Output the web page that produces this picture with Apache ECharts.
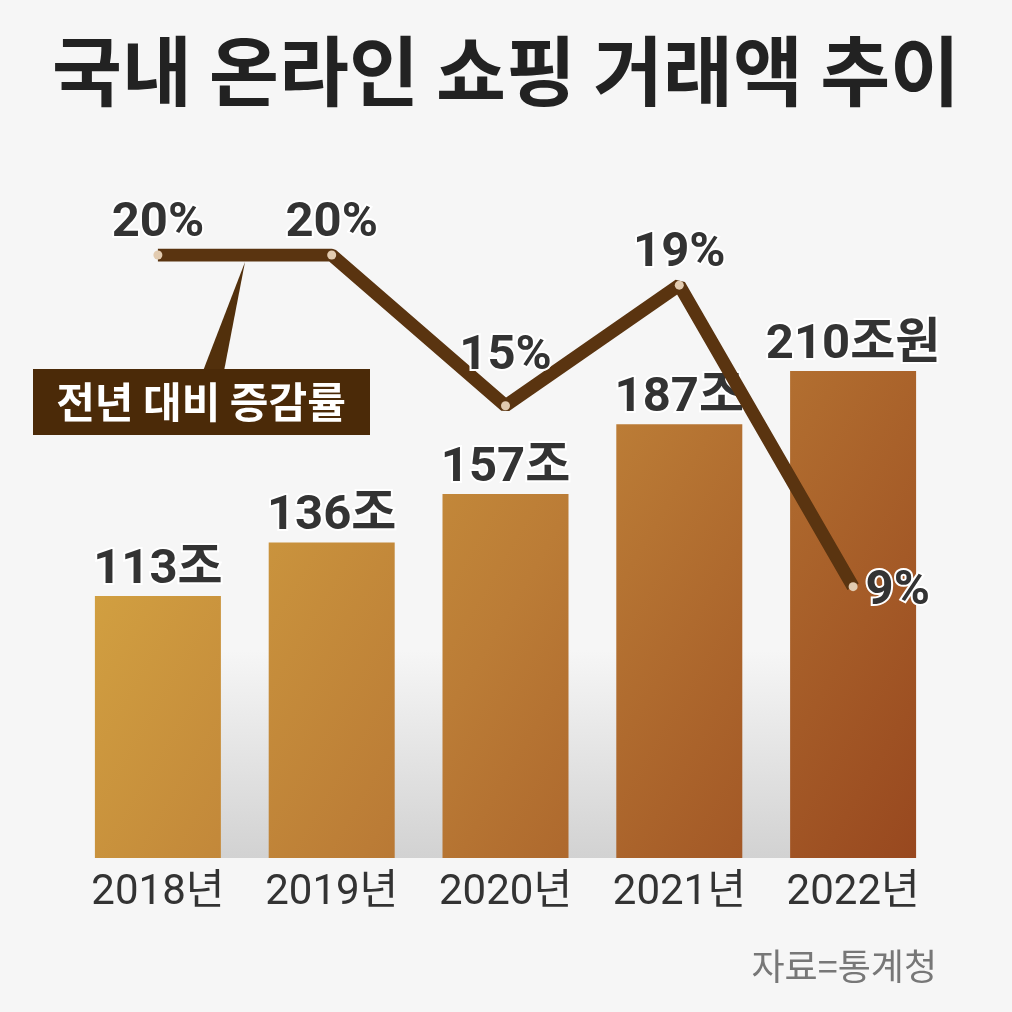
<!DOCTYPE html>
<html>
<head>
<meta charset="utf-8">
<script src="https://cdn.jsdelivr.net/npm/echarts@6/dist/echarts.min.js"></script>
<style>
html,body{margin:0;padding:0;background:#f6f6f6;}
#chart{width:1012px;height:1012px;}
</style>
</head>
<body>
<div id="chart"></div>
<script>
const categories = ['2018년', '2019년', '2020년', '2021년', '2022년'];
const amounts = [113, 136, 157, 187, 210];
const amountLabels = ['113조', '136조', '157조', '187조', '210조원'];
const growthRates = [20, 20, 15, 19, 9];

const chart = echarts.init(document.getElementById('chart'));
const numFont = 'Roboto, "Noto Sans CJK KR", sans-serif';
const barGrad = new echarts.graphic.LinearGradient(96, 371, 916, 858, [
  {offset: 0, color: '#d8aa44'},
  {offset: 0.5, color: '#bb7c36'},
  {offset: 1, color: '#98481f'}
], true);

const pctLabelCfg = [
  {position: 'top', distance: 2},
  {position: 'top', distance: 2},
  {position: 'top', distance: 20},
  {position: 'top', distance: 2},
  {position: 'right', distance: 8, offset: [0, 5]}
];

chart.setOption({
  backgroundColor: '#f6f6f6',
  animation: false,
  title: {
    text: '국내 온라인 쇼핑 거래액 추이',
    left: 'center',
    top: 28,
    textStyle: {fontFamily: '"Noto Sans CJK KR", sans-serif', fontWeight: 'bold', fontSize: 76, color: '#222222'}
  },
  graphic: [
    {type: 'rect', z: -10, shape: {x: 221, y: 650, width: 569, height: 208},
     style: {fill: new echarts.graphic.LinearGradient(0, 0, 0, 1, [{offset: 0, color: 'rgba(210,210,210,0)'}, {offset: 1, color: '#d2d2d2'}])}},
    {type: 'polygon', z: 50, shape: {points: [[203, 371], [224, 371], [245, 262]]}, style: {fill: '#52300c'}},
    {type: 'rect', z: 50, shape: {x: 33, y: 369, width: 337, height: 66}, style: {fill: '#4b2a08'}},
    {type: 'text', z: 51, x: 201, y: 402, style: {text: '전년 대비 증감률', fill: '#ffffff', fontSize: 42, fontWeight: 'bold', fontFamily: '"Noto Sans CJK KR", sans-serif', align: 'center', verticalAlign: 'middle'}},
    {type: 'text', right: 75, top: 948, style: {text: '자료=통계청', fill: '#777777', fontSize: 36, fontFamily: '"Noto Sans CJK KR", sans-serif'}}
  ],
  grid: {left: 71, right: 72, top: 255, bottom: 154},
  xAxis: {
    type: 'category',
    data: categories,
    axisLine: {show: false},
    axisTick: {show: false},
    axisLabel: {interval: 0, margin: 14, fontSize: 42, color: '#333333', fontFamily: numFont}
  },
  yAxis: [
    {type: 'value', min: 0, max: 260, show: false, splitLine: {show: false}},
    {type: 'value', min: 0, max: 20, show: false, splitLine: {show: false}}
  ],
  series: [
    {
      type: 'bar',
      data: amounts,
      barWidth: 126,
      itemStyle: {color: barGrad},
      label: {
        show: true,
        position: 'top',
        distance: 1,
        formatter: p => amountLabels[p.dataIndex],
        fontSize: 49,
        fontWeight: 'bold',
        fontFamily: numFont,
        color: '#333333',
        textBorderColor: '#ffffff',
        textBorderWidth: 4
      },
      z: 2
    },
    {
      type: 'line',
      yAxisIndex: 1,
      data: growthRates.map((v, i) => ({value: v, label: pctLabelCfg[i]})),
      lineStyle: {color: '#5a3410', width: 13},
      itemStyle: {color: '#e2cbb0', borderWidth: 0},
      symbol: 'circle',
      symbolSize: 9,
      showAllSymbol: true,
      label: {
        show: true,
        formatter: p => p.value + '%',
        fontSize: 49,
        fontWeight: 'bold',
        fontFamily: numFont,
        color: '#333333',
        textBorderColor: '#ffffff',
        textBorderWidth: 4
      },
      z: 5
    }
  ]
});
</script>
</body>
</html>
